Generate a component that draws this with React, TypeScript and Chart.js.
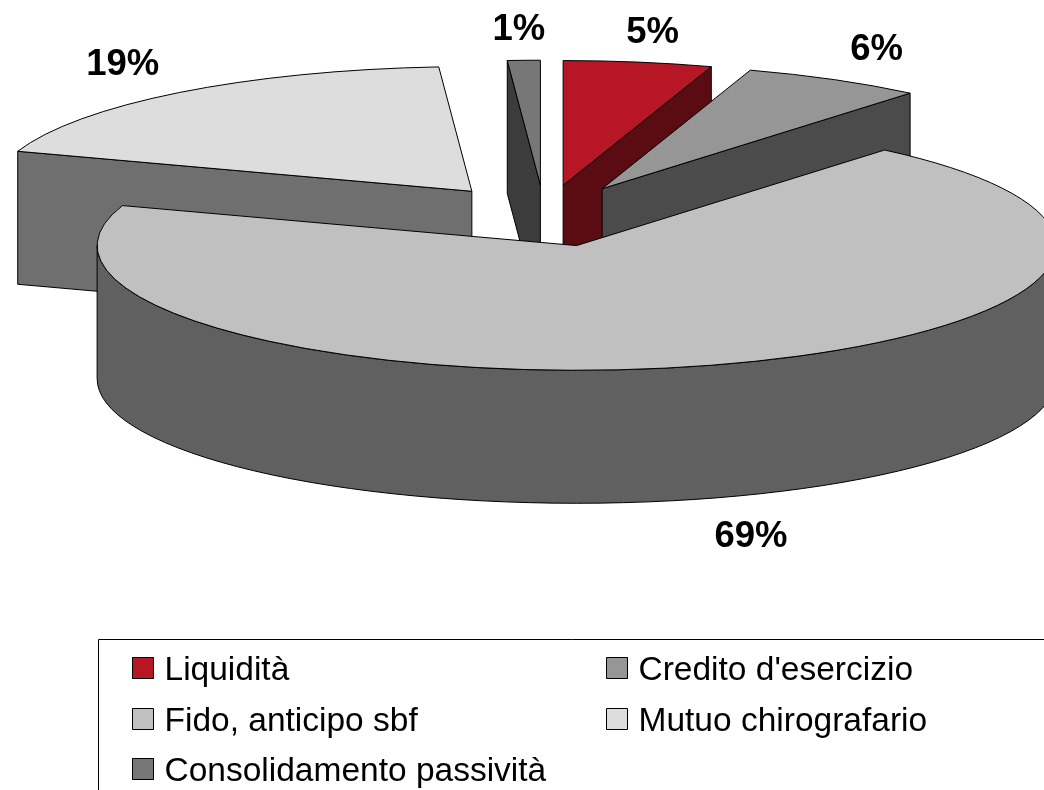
import React, { useEffect, useRef } from "react";
import { Chart, registerables } from "chart.js";

Chart.register(...registerables);

const categories = ["Liquidità", "Credito d'esercizio", "Fido, anticipo sbf", "Mutuo chirografario", "Consolidamento passività"];
const shares = [5, 6.1, 69.1, 18.7, 1.1];
const percentLabels = ["5%", "6%", "69%", "19%", "1%"];
const topColors = ["#B71625", "#969696", "#C0C0C0", "#DDDDDD", "#777777"];
const sideColors = ["#5B0B12", "#4B4B4B", "#606060", "#6F6F6F", "#3C3C3C"];

// Layout of the tilted pie
const CX = 544.5;
const CY = 215.8;
const RADIUS = 479.5;
const TILT = 0.26;
const DEPTH = 133;
const EXPLODE = 119;
const LABEL_RX = 700;
const LABEL_RY = 730;
const labelNudgeX = [-1.5, -7, 17.5, 5.5, -1.5];
const labelNudgeY = [5, 0, 5, -1, 4];

// Legend layout
const legendColumns = [132, 606];
const legendRows = [657, 708, 758];

const pie3d = {
  id: "pie3d",
  beforeDatasetsDraw(chart: any) {
    const ctx: CanvasRenderingContext2D = chart.ctx;
    const arcs: any[] = chart.getDatasetMeta(0).data;
    const slices = arcs.map((arc, i) => {
      const mid = (arc.startAngle + arc.endAngle) / 2;
      return {
        arc,
        i,
        mid,
        x: CX + EXPLODE * Math.cos(mid),
        y: CY + EXPLODE * TILT * Math.sin(mid),
      };
    });
    const ry = RADIUS * TILT;
    const order = [...slices].sort((a, b) => a.y - b.y);
    ctx.save();
    ctx.lineWidth = 1;
    ctx.strokeStyle = "#000000";
    ctx.lineJoin = "round";
    for (const s of order) {
      const a0 = s.arc.startAngle;
      const a1 = s.arc.endAngle;
      ctx.fillStyle = sideColors[s.i];
      const cutWall = (a: number) => {
        const px = s.x + RADIUS * Math.cos(a);
        const py = s.y + ry * Math.sin(a);
        ctx.beginPath();
        ctx.moveTo(s.x, s.y);
        ctx.lineTo(px, py);
        ctx.lineTo(px, py + DEPTH);
        ctx.lineTo(s.x, s.y + DEPTH);
        ctx.closePath();
        ctx.fill();
        ctx.stroke();
      };
      if (Math.cos(a0) < -1e-6) cutWall(a0);
      if (Math.cos(a1) > 1e-6) cutWall(a1);
      const lo = Math.max(a0, 0);
      const hi = Math.min(a1, Math.PI);
      if (hi > lo) {
        ctx.beginPath();
        ctx.ellipse(s.x, s.y, RADIUS, ry, 0, lo, hi);
        ctx.ellipse(s.x, s.y + DEPTH, RADIUS, ry, 0, hi, lo, true);
        ctx.closePath();
        ctx.fill();
        ctx.stroke();
      }
      // top face: the library's own arc element, flattened
      ctx.save();
      ctx.translate(s.x, s.y);
      ctx.scale(1, TILT);
      ctx.translate(-s.arc.x, -s.arc.y);
      s.arc.draw(ctx);
      ctx.restore();
      ctx.beginPath();
      ctx.moveTo(s.x, s.y);
      ctx.ellipse(s.x, s.y, RADIUS, ry, 0, a0, a1);
      ctx.closePath();
      ctx.stroke();
    }
    // percentage labels
    ctx.fillStyle = "#000000";
    ctx.font = "bold 36.5px 'Liberation Sans'";
    ctx.textAlign = "center";
    ctx.textBaseline = "middle";
    for (const s of slices) {
      const front = Math.sin(s.mid) > 0 ? DEPTH : 0;
      ctx.fillText(
        percentLabels[s.i],
        CX + LABEL_RX * Math.cos(s.mid) + labelNudgeX[s.i],
        CY + LABEL_RY * TILT * Math.sin(s.mid) + front + labelNudgeY[s.i]
      );
    }
    // legend
    ctx.strokeStyle = "#000000";
    ctx.lineWidth = 1;
    ctx.strokeRect(98.5, 639.5, 1100, 300);
    ctx.font = "33.5px 'Liberation Sans'";
    ctx.textAlign = "left";
    ctx.textBaseline = "alphabetic";
    categories.forEach((name, i) => {
      const x = legendColumns[i % 2];
      const y = legendRows[Math.floor(i / 2)];
      ctx.fillStyle = topColors[i];
      ctx.fillRect(x, y, 22, 22);
      ctx.strokeStyle = "#000000";
      ctx.strokeRect(x + 0.5, y + 0.5, 21, 21);
      ctx.fillStyle = "#000000";
      ctx.fillText(name, x + 32.5, y + 23);
    });
    ctx.restore();
    return false;
  },
};

export default function App() {
  const ref = useRef<HTMLCanvasElement>(null);
  useEffect(() => {
    if (!ref.current) return;
    const chart = new Chart(ref.current, {
      type: "pie",
      data: {
        labels: categories,
        datasets: [
          {
            data: shares,
            backgroundColor: topColors,
            borderWidth: 0,
            radius: RADIUS,
          } as any,
        ],
      },
      options: {
        responsive: false,
        animation: false,
        events: [],
        layout: { padding: 0 },
        plugins: {
          legend: { display: false },
          tooltip: { enabled: false },
          title: { display: false },
        },
      },
      plugins: [pie3d],
    });
    return () => chart.destroy();
  }, []);
  return (
    <div style={{ position: "fixed", left: 0, top: 0, width: 1044, height: 790, background: "#fff", overflow: "hidden" }}>
      <canvas ref={ref} width={1044} height={790} style={{ display: "block" }} />
    </div>
  );
}
